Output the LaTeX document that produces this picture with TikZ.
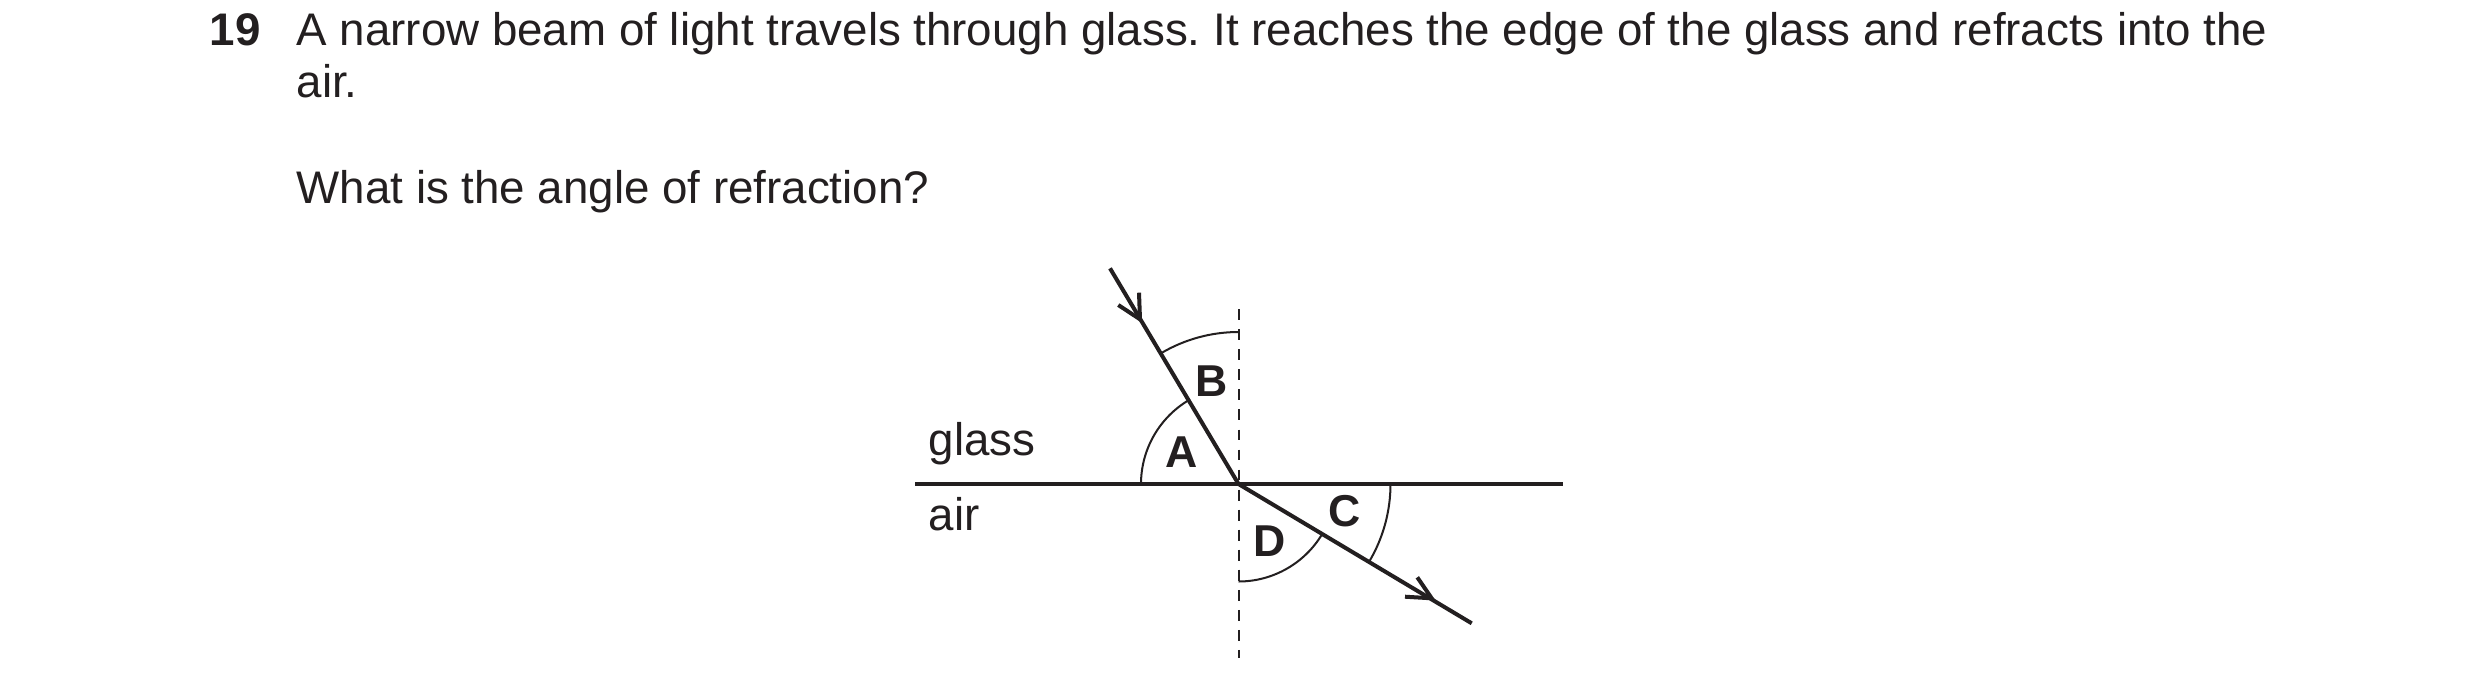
\documentclass[tikz,border=0pt]{standalone}
\usepackage{fontspec}
\setmainfont{Liberation Sans}
\definecolor{ink}{HTML}{231F20}
\begin{document}
\frenchspacing
\begin{tikzpicture}[x=0.1mm,y=0.1mm,
  txt/.style={anchor=base west,inner sep=0pt,font=\fontsize{13}{15}\selectfont,text=ink},
  lbl/.style={anchor=center,inner sep=0pt,font=\fontsize{12.7}{15}\selectfont\bfseries,text=ink},
  thick line/.style={draw=ink,line width=1.14pt},
  thin line/.style={draw=ink,line width=0.57pt},
  normal line/.style={draw=ink,line width=0.57pt,dash pattern=on 3.1pt off 2.6pt}]
\useasboundingbox[fill=white] (0,0) rectangle (2480,697);
% question text
\node[txt,font=\fontsize{13}{15}\selectfont\bfseries] (num) at (209,652) {19};
\node[txt] (l1) at (296,652) {A narrow beam of light travels through glass. It reaches the edge of the glass and refracts into the};
\node[txt] (l2) at (296,599.3) {air.};
\node[txt] (l3) at (296,493.7) {What is the angle of refraction?};
% diagram coordinates
\coordinate (O) at (1238.5,213);
\coordinate (L) at (915,213);
\coordinate (R) at (1563.3,213);
\coordinate (Ntop) at (1238.5,387.7);
\coordinate (Nbot) at (1238.5,38.7);
\coordinate (P) at (1110,428.7);
\coordinate (Q) at (1471.7,73.7);
\coordinate (T1) at (1140,377.7);
\coordinate (T1a) at (1118.3,392);
\coordinate (T1b) at (1139,404.3);
\coordinate (T2) at (1431.7,98.7);
\coordinate (T2a) at (1405,100.3);
\coordinate (T2b) at (1417.3,119.7);
% normal
\draw[normal line] (Ntop) -- (Nbot);
% boundary
\draw[thick line] (L) -- (R);
% rays
\draw[thick line] (P) -- (O) -- (Q);
\draw[thick line] (T1a) -- (T1) -- (T1b);
\draw[thick line] (T2a) -- (T2) -- (T2b);
% angle arcs
\draw[thin line] ([shift={(90:152)}]O) arc[start angle=90,end angle=120.7,radius=152];
\draw[thin line] ([shift={(180:97.5)}]O) arc[start angle=180,end angle=120.7,radius=97.5];
\draw[thin line] ([shift={(0:152)}]O) arc[start angle=0,end angle=-30.8,radius=152];
\draw[thin line] ([shift={(270:97.5)}]O) arc[start angle=270,end angle=329.2,radius=97.5];
% labels
\node[lbl] (A) at (1181.7,245) {A};
\node[lbl] (B) at (1211.7,316) {B};
\node[lbl] (C) at (1345,185.5) {C};
\node[lbl] (D) at (1269.5,155.5) {D};
\node[txt] (glass) at (928,242) {glass};
\node[txt] (air) at (928,167) {air};
\end{tikzpicture}
\end{document}
